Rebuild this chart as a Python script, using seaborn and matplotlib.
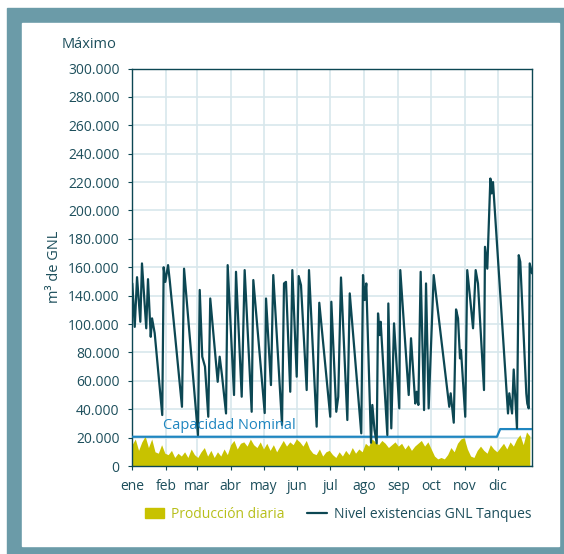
"""
Nivel de existencias GNL en tanques vs. produccion diaria
"""

import numpy as np
import pandas as pd
import matplotlib
matplotlib.use("Agg")
import matplotlib.pyplot as plt
import seaborn as sns
from matplotlib.patches import Rectangle, Patch
from matplotlib.lines import Line2D

# ── Data ──────────────────────────────────────────────────────────────

MONTHS = ["ene", "feb", "mar", "abr", "may", "jun",
          "jul", "ago", "sep", "oct", "nov", "dic"]
MONTH_START = [0, 31, 59, 90, 120, 151, 181, 212, 243, 273, 304, 334]

# gridline positions (axis units) and the label printed on each one
Y_TICKS = [0, 20000, 40000, 60000, 80000, 100000, 120000, 140000,
           160000, 180000, 200000, 220000, 240000, 260000, 280000]
Y_TICK_LABELS = ["0", "20.000", "40.000", "60.000", "80.000", "100.000", "140.000",
                 "160.000", "180.000", "200.000", "220.000", "240.000", "260.000",
                 "280.000", "300.000"]

# tank level, axis units
LEVEL_DAY = [0.3, 2.5, 4.6, 7.6, 9.1, 13, 14.6, 17.1, 18.3, 20.7,
             27.6, 28.9, 30.4, 32.9, 34.4, 45.6, 47.5, 60.2, 61.8, 64.1,
             66.6, 69.6, 71.4, 78.2, 80, 82.1, 85.8, 87.3, 93.1, 94.9,
             100.1, 102.8, 109.2, 110.7, 121.1, 122.3, 126.8, 128.9, 136.9, 138.7,
             140.5, 144.4, 146.3, 150.3, 152.1, 154.2, 159.4, 161.5, 168.5, 170.9,
             180.9, 181.9, 186.4, 188.2, 190.7, 196.5, 198.7, 209.2, 210.8, 212.3,
             213.8, 218.1, 219.3, 221.3, 223.3, 224.5, 226, 226.9, 233, 233.9,
             236.6, 239.1, 243.9, 244.8, 252.5, 254.6, 258.5, 259.8, 261.3, 263.4,
             266.5, 268.3, 270.7, 275.3, 289.5, 290.8, 293.6, 295.7, 297.5, 299.3,
             300.2, 304.1, 305.9, 308.7, 311.2, 313.6, 315.7, 321.2, 322.1, 324.2,
             327, 328.2, 329.4, 343.1, 344.3, 346.8, 348.3, 351.3, 352.9, 354.3,
             359.8, 360.7, 362, 362.9, 365]
LEVEL_M3 = [128600, 98000, 133000, 101600, 142700, 97000, 131600, 91000, 104000, 93600,
            35900, 140000, 129700, 141500, 131000, 41700, 139000, 21800, 124000, 77000,
            70000, 34700, 118000, 59300, 77000, 64000, 37000, 141500, 50000, 136800,
            48800, 138000, 38200, 131000, 37300, 118000, 57000, 134500, 28900, 128600,
            129700, 52300, 138000, 62900, 133800, 127400, 53500, 138000, 27700, 115000,
            34700, 115700, 38200, 48800, 132800, 32400, 121600, 23000, 134500, 116900,
            128600, 16400, 43000, 25300, 16000, 107500, 92200, 101600, 21800, 114500,
            26500, 100500, 40600, 138000, 50000, 90000, 44000, 52300, 43000, 136800,
            39400, 128600, 40600, 134500, 41700, 51200, 30500, 110300, 104000, 75800,
            81700, 34700, 138000, 116900, 97000, 138000, 128600, 53500, 154400, 139000,
            202500, 192000, 200000, 37000, 51200, 37000, 68000, 26500, 148500, 143800,
            51200, 44000, 40600, 142700, 135700]

# daily production, m3, sampled every third day
PROD_DAY = np.arange(0, 364, 3)
PROD_M3 = [15000, 19000, 11000, 17000, 21000, 13000, 19000, 10000, 9000, 15000, 9000,
           8000, 11000, 6000, 9000, 7000, 10000, 6000, 12000, 8000,
           6000, 10000, 13000, 7000, 11000, 6000, 10000, 7000, 12000, 8000,
           15000, 18000, 12000, 16000, 17000, 14000, 19000, 15000, 13000, 17000,
           12000, 16000, 11000, 15000, 10000, 14000, 18000, 14000, 17000, 15000, 19000,
           17000, 14000, 18000, 12000, 9000, 8000, 12000, 7000, 10000, 11000,
           8000, 6000, 10000, 7000, 11000, 8000, 13000, 9000, 12000, 10000,
           16000, 14000, 19000, 17000, 15000, 18000, 16000, 13000, 15000, 17000,
           14000, 16000, 12000, 15000, 11000, 14000, 16000, 18000, 14000, 17000,
           12000, 7000, 5000, 6000, 5000, 8000, 13000, 10000, 16000, 19000, 20000,
           12000, 7000, 6000, 11000, 14000, 11000, 9000, 15000, 12000, 10000,
           13000, 16000, 12000, 17000, 14000, 19000, 22000, 15000, 24000, 21000]

# nominal capacity, steps up in december
NOMINAL_DAY = [0, 333, 336, 365]
NOMINAL_M3 = [20600, 20600, 26000, 26000]

# ── Style ─────────────────────────────────────────────────────────────

FRAME = "#6b9ba8"
LINE = "#0c4753"
YELLOW = "#c8c200"
NOMINAL = "#1f86c0"
GRID = "#d8e7ec"
TEXT = "#1d4f5c"
FONT = "Open Sans"


def main():
    sns.set_theme(style="white")
    plt.rcParams["font.family"] = [FONT, "DejaVu Sans"]

    fig = plt.figure(figsize=(5.64, 5.54), dpi=100)
    fig.patches.append(Rectangle((6.5 / 564, 0), 1, 1 - 8 / 554,
                                 transform=fig.transFigure, color=FRAME, zorder=-2))
    fig.patches.append(Rectangle((21.6 / 564, 1 - 546 / 554), (559 - 21.6) / 564,
                                 (546 - 23) / 554, transform=fig.transFigure,
                                 color="white", zorder=-1))

    ax = fig.add_axes([132 / 564, 1 - 466 / 554, 400 / 564, (466 - 68.5) / 554])

    level = pd.DataFrame({"day": LEVEL_DAY, "m3": LEVEL_M3})
    prod = pd.DataFrame({"day": PROD_DAY, "m3": PROD_M3})
    nominal = pd.DataFrame({"day": NOMINAL_DAY, "m3": NOMINAL_M3})

    ax.fill_between(prod["day"], 0, prod["m3"], color=YELLOW, lw=0, zorder=2)
    sns.lineplot(data=nominal, x="day", y="m3", ax=ax, color=NOMINAL, lw=1.6,
                 zorder=3, estimator=None)
    sns.lineplot(data=level, x="day", y="m3", ax=ax, color=LINE, lw=1.6,
                 zorder=4, estimator=None)

    ax.text(28.5, 23500, "Capacidad Nominal", color=NOMINAL, fontsize=10.5,
            ha="left", va="bottom", zorder=5)

    ax.set_xlim(0, 365)
    ax.set_ylim(0, 280000)
    ax.set_xticks(MONTH_START)
    ax.set_xticklabels(MONTHS)
    ax.set_yticks(Y_TICKS)
    ax.set_yticklabels(Y_TICK_LABELS)
    ax.grid(True, color=GRID, lw=1.2, zorder=0)
    ax.set_axisbelow(True)
    for s in ax.spines.values():
        s.set_color(LINE)
        s.set_linewidth(1.0)
    ax.tick_params(axis="both", colors=LINE, labelcolor=TEXT, labelsize=10,
                   length=3, width=0.8, direction="out", left=True, bottom=True)
    ax.tick_params(axis="y", pad=6)
    ax.tick_params(axis="x", pad=6)
    ax.set_xlabel("")
    ax.set_ylabel("m³ de GNL", color=TEXT, fontsize=10.5, labelpad=4)

    fig.text(62 / 564, 1 - 44 / 554, "Máximo", color=TEXT, fontsize=10.5,
             ha="left", va="center")

    handles = [Patch(color=YELLOW, label="Producción diaria"),
               Line2D([], [], color=LINE, lw=1.6, label="Nivel existencias GNL Tanques")]
    leg = fig.legend(handles=handles, loc="center", ncol=2, frameon=False,
                     bbox_to_anchor=(338 / 564, 1 - 514 / 554), fontsize=10,
                     handlelength=1.4, handletextpad=0.5, columnspacing=1.6)
    leg.get_texts()[0].set_color("#b7bf1a")
    leg.get_texts()[1].set_color(TEXT)

    fig.savefig("out.png", dpi=100)
    plt.close(fig)


if __name__ == "__main__":
    main()
